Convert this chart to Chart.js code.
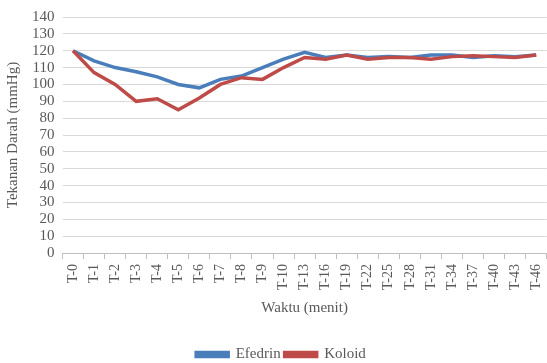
<!DOCTYPE html>
<html>
<head>
<meta charset="utf-8">
<script src="https://cdn.jsdelivr.net/npm/chart.js@4"></script>
<style>
  html, body { margin: 0; padding: 0; background: #fff; overflow: hidden; }
  #wrap { width: 547px; height: 363px; overflow: hidden; }
</style>
</head>
<body>
<div id="wrap"><canvas id="bpChart" width="558" height="363"></canvas></div>
<script>
// --- data ---
const labels = ['T-0','T-1','T-2','T-3','T-4','T-5','T-6','T-7','T-8','T-9','T-10',
  'T-13','T-16','T-19','T-22','T-25','T-28','T-31','T-34','T-37','T-40','T-43','T-46'];
const efedrin = [120, 114, 110, 107.5, 104.5, 100, 98, 103, 105, 110, 115,
  119, 116, 117.5, 116, 116.5, 116, 117.5, 117.5, 116, 117, 116.5, 117.5];
const koloid = [120, 107, 100, 90, 91.5, 85, 92, 100, 104, 103, 110,
  116, 115, 117.5, 115, 116, 116, 115, 116.5, 117, 116.5, 116, 117.5];

const FONT = 'Liberation Serif, Times New Roman, serif';
const TXT = '#595959';

new Chart(document.getElementById('bpChart').getContext('2d'), {
  type: 'line',
  data: {
    labels: labels,
    datasets: [
      // Koloid drawn over Efedrin like in the original
      { label: 'Efedrin', data: efedrin, borderColor: '#4a7ebb', backgroundColor: '#4a7ebb',
        borderWidth: 3.5, pointRadius: 0, tension: 0, order: 1 },
      { label: 'Koloid', data: koloid, borderColor: '#be4b48', backgroundColor: '#be4b48',
        borderWidth: 3.5, pointRadius: 0, tension: 0, order: 0 }
    ]
  },
  options: {
    responsive: false,
    animation: false,
    layout: { padding: { top: 8, right: 0, left: 4, bottom: -9 } },
    plugins: {
      legend: {
        position: 'bottom',
        labels: { boxWidth: 32, boxHeight: 4, padding: 4, color: TXT, font: { family: FONT, size: 15 },
          sort: (a, b) => a.datasetIndex - b.datasetIndex }
      },
      tooltip: { enabled: false }
    },
    scales: {
      x: {
        offset: true,
        grid: { display: true, offset: true, drawOnChartArea: false, tickLength: 6, color: '#bfbfbf' },
        border: { color: '#bfbfbf' },
        ticks: { minRotation: 90, maxRotation: 90, autoSkip: false, color: TXT, padding: 5,
          font: { family: FONT, size: 14 } },
        title: { display: true, text: 'Waktu (menit)', color: TXT, padding: { top: 4, bottom: 26 },
          font: { family: FONT, size: 15 } }
      },
      y: {
        min: 0, max: 140,
        ticks: { stepSize: 10, autoSkip: false, color: TXT, padding: 8, font: { family: FONT, size: 15 } },
        grid: { color: '#d9d9d9', drawTicks: false },
        border: { display: false },
        title: { display: true, text: 'Tekanan Darah (mmHg)', color: TXT, padding: { top: 0, bottom: 2 },
          font: { family: FONT, size: 15 } }
      }
    }
  }
});
</script>
</body>
</html>
